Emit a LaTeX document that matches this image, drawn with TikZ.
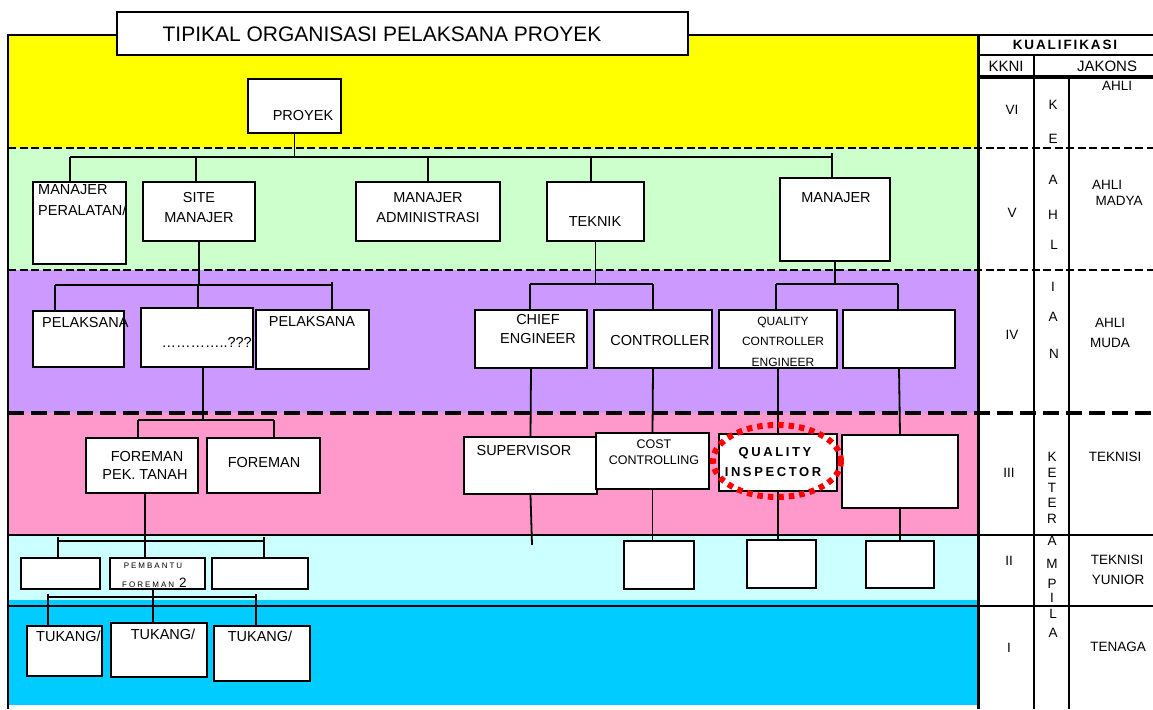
\documentclass[tikz,border=0pt]{standalone}
\usepackage{fontspec}
\setmainfont{Liberation Sans}
\newfontfamily\spcfont[LetterSpace=20]{Liberation Sans}
\newfontfamily\spcfontk[LetterSpace=14]{Liberation Sans}
\newfontfamily\spcfontp[LetterSpace=25]{Liberation Sans}
\definecolor{cYel}{HTML}{FFFF00}
\definecolor{cGrn}{HTML}{CCFFCC}
\definecolor{cPur}{HTML}{CC99FF}
\definecolor{cPnk}{HTML}{FF99CC}
\definecolor{cLcy}{HTML}{CCFFFF}
\definecolor{cCyn}{HTML}{00CCFF}
\definecolor{cRed}{HTML}{FF0000}
\begin{document}
\begin{tikzpicture}[x=1pt,y=-1pt,
  box/.style={draw=black, fill=white, line width=2pt, inner sep=0pt},
  txt/.style={inner sep=0pt, font=\fontsize{14.5}{16}\selectfont},
  stxt/.style={inner sep=0pt, font=\fontsize{12.5}{14}\selectfont},
  coltxt/.style={inner sep=0pt, font=\fontsize{15}{17}\selectfont},
  vlet/.style={inner sep=0pt, font=\fontsize{13.5}{15}\selectfont},
  link/.style={line width=1.8pt},
  thindash/.style={line width=2.6pt, dash pattern=on 8pt off 3.5pt},
  thickdash/.style={line width=4.5pt, dash pattern=on 16pt off 7pt},
  rulethin/.style={line width=1.8pt},
  rulethick/.style={line width=3pt},
  ring/.style={draw=cRed, line width=6pt, dash pattern=on 5.5pt off 5pt}]
\useasboundingbox (0,0) rectangle (1153,709);
% ---------- bands ----------
\fill[cYel] (8,35) rectangle (978,148);
\fill[cGrn] (8,148) rectangle (978,270);
\fill[cPur] (8,270) rectangle (978,413);
\fill[cPnk] (8,413) rectangle (978,535);
\fill[cLcy] (8,535) rectangle (978,600);
\fill[cCyn] (8,600) rectangle (978,705);
% ---------- rules ----------
\draw[thindash] (8,148) -- (1153,148);
\draw[thindash] (8,270) -- (1153,270);
\draw[thickdash] (8,413) -- (1153,413);
\draw[rulethin] (8,535) -- (1153,535);
\draw[rulethin] (8,606) -- (1153,606);
\draw[rulethin] (8,35) -- (978,35);
\draw[line width=2.2pt] (8,34) -- (8,709);
% right column
\draw[rulethin] (978,35) -- (1153,35);
\draw[rulethin] (978,55) -- (1153,55);
\draw[line width=3.5pt] (978,77) -- (1153,77);
\draw[rulethick] (978,34) -- (978,709);
\draw[line width=2.5pt] (1034,55) -- (1034,709);
\draw[line width=2.2pt] (1069,77) -- (1069,709);
% ---------- coordinates of buses ----------
\coordinate (b1a) at (70,157);  \coordinate (b1b) at (196,157);
\coordinate (b1c) at (428,157); \coordinate (b1d) at (591,157);
\coordinate (b1e) at (832,157);
\coordinate (b2a) at (55,285);  \coordinate (b2b) at (198,285);
\coordinate (b2c) at (332,285);
\coordinate (b3a) at (530,284); \coordinate (b3b) at (653,284);
\coordinate (b4a) at (776,284); \coordinate (b4b) at (898,284);
\coordinate (b5a) at (138,420); \coordinate (b5m) at (203,420);
\coordinate (b5b) at (274,420);
\coordinate (b6a) at (58,541);  \coordinate (b6b) at (264,541);
\coordinate (b6m) at (145,541);
\coordinate (b7a) at (48,597);  \coordinate (b7b) at (256,597);
\coordinate (b7m) at (153,597);
\coordinate (supend) at (532,545);
% ---------- boxes ----------
\node[box, minimum width=571, minimum height=43] (title) at (402.5,33.5) {};
\node[box, minimum width=93,  minimum height=54] (proyek) at (294.5,106) {};
\node[box, minimum width=93,  minimum height=82] (mperal) at (79.5,223) {};
\node[box, minimum width=112, minimum height=59] (site)   at (199,211.5) {};
\node[box, minimum width=144, minimum height=59] (madm)   at (428,211.5) {};
\node[box, minimum width=97,  minimum height=59] (teknik) at (595.5,211.5) {};
\node[box, minimum width=110, minimum height=83] (mgr)    at (835,219.5) {};
\node[box, minimum width=91,  minimum height=56] (pel1)   at (78.5,339) {};
\node[box, minimum width=112, minimum height=59] (mid)    at (197,337.5) {};
\node[box, minimum width=113, minimum height=59] (pel2)   at (312.5,339.5) {};
\node[box, minimum width=112, minimum height=58] (chief)  at (531,339) {};
\node[box, minimum width=118, minimum height=58] (ctrl)   at (653,339) {};
\node[box, minimum width=118, minimum height=58] (qce)    at (778,339) {};
\node[box, minimum width=112, minimum height=58] (efour)  at (899,339) {};
\node[box, minimum width=112, minimum height=55] (fpt)    at (142,465.5) {};
\node[box, minimum width=113, minimum height=55] (fore)   at (263.5,465.5) {};
\node[box, minimum width=133, minimum height=57] (sup)    at (530.5,465.5) {};
\node[box, minimum width=113, minimum height=56] (cost)   at (652.5,461) {};
\node[box, minimum width=118, minimum height=57] (qi)     at (778,462.5) {};
\node[box, minimum width=116, minimum height=73] (ethree) at (900,471.5) {};
\node[box, minimum width=79,  minimum height=31] (etwoa)  at (60.5,573.5) {};
\node[box, minimum width=95,  minimum height=31] (pemb)   at (157.5,573.5) {};
\node[box, minimum width=96,  minimum height=31] (etwob)  at (260,573.5) {};
\node[box, minimum width=70,  minimum height=48] (etwoc)  at (659,565) {};
\node[box, minimum width=69,  minimum height=48] (etwod)  at (781.5,564) {};
\node[box, minimum width=68,  minimum height=47] (etwoe)  at (900,564.5) {};
\node[box, minimum width=75,  minimum height=50] (tka)    at (64.5,651) {};
\node[box, minimum width=96,  minimum height=54] (tkb)    at (159,650) {};
\node[box, minimum width=96,  minimum height=55] (tkc)    at (262,653.5) {};
% ---------- connectors ----------
\draw[link] (proyek.south) -- (proyek.south |- b1a);
\draw[link] (b1a) -- (b1e);
\draw[link] (b1a) -- (b1a |- mperal.north);
\draw[link] (b1b) -- (b1b |- site.north);
\draw[link] (b1c) -- (b1c |- madm.north);
\draw[link] (b1d) -- (b1d |- teknik.north);
\draw[link] ([yshift=4pt]b1e) -- (b1e |- mgr.north);
\draw[link] (site.south) -- (site.south |- b2a);
\draw[link] (b2a) -- (b2c);
\draw[link] (b2a) -- (b2a |- pel1.north);
\draw[link] (b2b) -- (b2b |- mid.north);
\draw[link] ([yshift=3pt]b2c) -- (b2c |- pel2.north);
\draw[link] (teknik.south) -- (teknik.south |- b3a);
\draw[link] (b3a) -- (b3b);
\draw[link] (b3a) -- (b3a |- chief.north);
\draw[link] (b3b) -- (b3b |- ctrl.north);
\draw[link] (mgr.south) -- (mgr.south |- b4a);
\draw[link] (b4a) -- (b4b);
\draw[link] (b4a) -- (b4a |- qce.north);
\draw[link] (b4b) -- (b4b |- efour.north);
\draw[link] (b5m |- mid.south) -- (b5m);
\draw[link] (b5a) -- (b5b);
\draw[link] (b5a) -- (b5a |- fpt.north);
\draw[link] (b5b) -- (b5b |- fore.north);
\draw[link] (chief.south) -- (sup.north);
\draw[link] (ctrl.south) -- (cost.north);
\draw[link] (qce.south) -- (qi.north);
\draw[link] (efour.south) -- (ethree.north);
\draw[link] (b6m |- fpt.south) -- (b6m |- pemb.north);
\draw[link] (b6a) -- (b6b);
\draw[link] ([yshift=4pt]b6a) -- (b6a |- etwoa.north);
\draw[link] ([yshift=4pt]b6b) -- (b6b |- etwob.north);
\draw[link] (sup.south) -- (supend);
\draw[link] (cost.south) -- (cost.south |- etwoc.north);
\draw[link] (qi.south) -- (qi.south |- etwod.north);
\draw[link] (ethree.south) -- (ethree.south |- etwoe.north);
\draw[link] (b7m |- pemb.south) -- (b7m |- tkb.north);
\draw[link] (b7a) -- (b7b);
\draw[link] ([yshift=3pt]b7a) -- (b7a |- tka.north);
\draw[link] ([yshift=3pt]b7b) -- (b7b |- tkc.north);
% ---------- highlight ring ----------
\draw[ring] (777,461) ellipse [x radius=64pt, y radius=36pt];
% ---------- texts ----------
\node[inner sep=0pt, font=\fontsize{21}{24}\selectfont] (ttitle) at (382,34) {TIPIKAL ORGANISASI PELAKSANA PROYEK};
\node[txt] (tproyek) at (303,116) {PROYEK};
\node[txt, anchor=west] (tmp1) at (38,190) {MANAJER};
\node[txt, anchor=west] (tmp2) at (38,210) {PERALATAN/};
\node[txt] (tsite1) at (199,198) {SITE};
\node[txt] (tsite2) at (199,218) {MANAJER};
\node[txt] (tadm1) at (428,198) {MANAJER};
\node[txt] (tadm2) at (428,218) {ADMINISTRASI};
\node[txt] (ttek) at (595,222) {TEKNIK};
\node[txt] (tmgr) at (836,198) {MANAJER};
\node[txt, anchor=west] (tpel1) at (42,323) {PELAKSANA};
\node[txt, anchor=east] (tmid) at (252,342) {…………..???};
\node[txt] (tpel2) at (312,322) {PELAKSANA};
\node[txt] (tchief1) at (538,320) {CHIEF};
\node[txt] (tchief2) at (538,339) {ENGINEER};
\node[txt] (tctrl) at (660,341) {CONTROLLER};
\node[inner sep=0pt, font=\fontsize{12}{14}\selectfont] (tqce1) at (783,322) {QUALITY};
\node[inner sep=0pt, font=\fontsize{12}{14}\selectfont] (tqce2) at (783,341) {CONTROLLER};
\node[inner sep=0pt, font=\fontsize{12}{14}\selectfont] (tqce3) at (783,362) {ENGINEER};
\node[txt] (tfpt1) at (147,457) {FOREMAN};
\node[txt] (tfpt2) at (145,475) {PEK. TANAH};
\node[txt] (tfore) at (264,463) {FOREMAN};
\node[txt] (tsup) at (524,451) {SUPERVISOR};
\node[stxt] (tcost1) at (654,444) {COST};
\node[stxt] (tcost2) at (654,460) {CONTROLLING};
\node[inner sep=0pt, font=\spcfont\bfseries\fontsize{13}{15}\selectfont] (tqi1) at (775,453) {QUALITY};
\node[inner sep=0pt, font=\spcfont\bfseries\fontsize{13}{15}\selectfont] (tqi2) at (773,472) {INSPECTOR};
\node[inner sep=0pt, font=\spcfontp\fontsize{8}{10}\selectfont] (tpemb1) at (153,566) {PEMBANTU};
\node[inner sep=0pt, anchor=base west] (tpemb2) at (122,587) {{\spcfontp\fontsize{8}{10}\selectfont FOREMAN}\hspace{5pt}{\fontsize{13.5}{15}\selectfont 2}};
\node[txt, anchor=west] (ttka) at (36,636) {TUKANG/};
\node[txt] (ttkb) at (163,634) {TUKANG/};
\node[txt] (ttkc) at (260,636) {TUKANG/};
% right column texts
\node[inner sep=0pt, font=\spcfontk\bfseries\fontsize{13.5}{15}\selectfont] (tkual) at (1065,45) {KUALIFIKASI};
\node[coltxt] (tkkni) at (1006,66) {KKNI};
\node[coltxt] (tjak) at (1107,66) {JAKONS};
\node[vlet] (lvi) at (1012,110) {VI};
\node[vlet] (lv) at (1012,213) {V};
\node[vlet] (liv) at (1012,335) {IV};
\node[vlet] (liii) at (1009,473) {III};
\node[vlet] (lii) at (1009,561) {II};
\node[vlet] (li) at (1009,648) {I};
\node[vlet] (k1) at (1053,105) {K};
\node[vlet] (k2) at (1053,139) {E};
\node[vlet] (k3) at (1053,180) {A};
\node[vlet] (k4) at (1053,215) {H};
\node[vlet] (k5) at (1054,245) {L};
\node[vlet] (k6) at (1053,287) {I};
\node[vlet] (k7) at (1053,317) {A};
\node[vlet] (k8) at (1054,354) {N};
\node[vlet] (m1) at (1052,457) {K};
\node[vlet] (m2) at (1052,473) {E};
\node[vlet] (m3) at (1052,488) {T};
\node[vlet] (m4) at (1052,503) {E};
\node[vlet] (m5) at (1052,519) {R};
\node[vlet] (m6) at (1052,541) {A};
\node[vlet] (m7) at (1052,564) {M};
\node[vlet] (m8) at (1052,584) {P};
\node[vlet] (m9) at (1052,598) {I};
\node[vlet] (m10) at (1053,614) {L};
\node[vlet] (m11) at (1053,633) {A};
\node[vlet] (j1) at (1117,86) {AHLI};
\node[vlet] (j2) at (1107,185) {AHLI};
\node[vlet] (j3) at (1119,201) {MADYA};
\node[vlet] (j4) at (1110,323) {AHLI};
\node[vlet] (j5) at (1110,343) {MUDA};
\node[vlet] (j6) at (1115,457) {TEKNISI};
\node[vlet] (j7) at (1117,560) {TEKNISI};
\node[vlet] (j8) at (1118,580) {YUNIOR};
\node[vlet] (j9) at (1118,647) {TENAGA};
\end{tikzpicture}
\end{document}
